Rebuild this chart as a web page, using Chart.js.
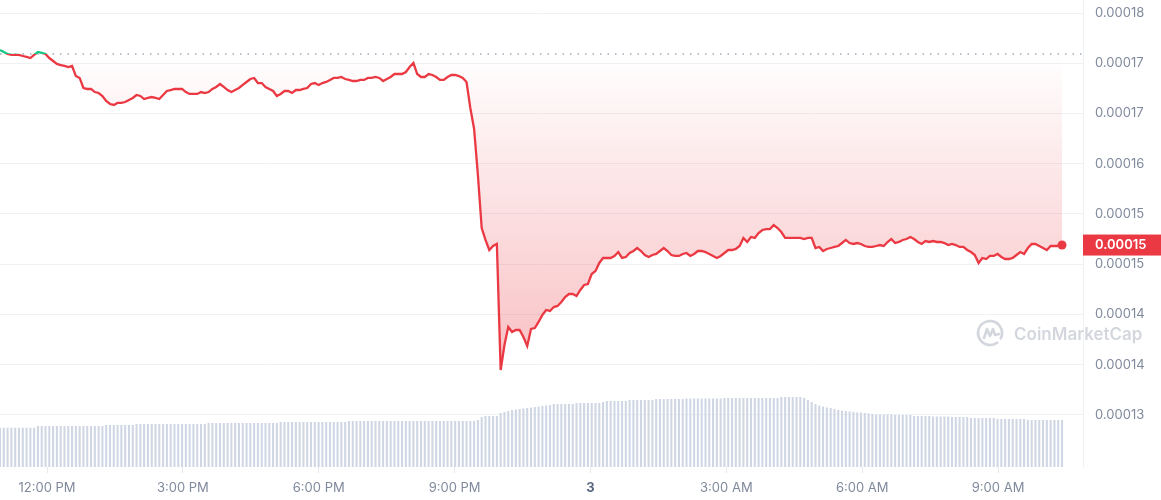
<!DOCTYPE html>
<html>
<head>
<meta charset="utf-8">
<title>Price chart</title>
<script src="https://cdn.jsdelivr.net/npm/chart.js@4.4.0/dist/chart.umd.min.js"></script>
<style>
    html, body { margin: 0; padding: 0; background: #fff; }
    #wrap { width: 1161px; height: 500px; position: relative; }
</style>
</head>
<body>
<div id="wrap"><canvas id="chart-price"></canvas></div>
<script>
// ~5-minute samples, first one just before 11:00 AM (minutes counted from midnight of the first day)
const startMinute = 657.7;
const stepMinutes = 5.025;

const priceValues = [
    0.00017540, 0.00017515, 0.00017490, 0.00017478, 0.00017478, 0.00017478, 0.00017465, 0.00017453, 0.00017440, 0.00017478,
    0.00017515, 0.00017503, 0.00017490, 0.00017440, 0.00017403, 0.00017366, 0.00017353, 0.00017341, 0.00017328, 0.00017341,
    0.00017216, 0.00017192, 0.00017067, 0.00017055, 0.00017055, 0.00017017, 0.00017005, 0.00016968, 0.00016906, 0.00016868,
    0.00016856, 0.00016881, 0.00016881, 0.00016893, 0.00016918, 0.00016943, 0.00016980, 0.00016968, 0.00016930, 0.00016943,
    0.00016955, 0.00016943, 0.00016930, 0.00016980, 0.00017030, 0.00017042, 0.00017055, 0.00017055, 0.00017055, 0.00017017,
    0.00016993, 0.00016993, 0.00016993, 0.00017017, 0.00017005, 0.00017017, 0.00017055, 0.00017080, 0.00017117, 0.00017080,
    0.00017042, 0.00017017, 0.00017042, 0.00017067, 0.00017105, 0.00017142, 0.00017179, 0.00017192, 0.00017129, 0.00017129,
    0.00017080, 0.00017055, 0.00017030, 0.00016968, 0.00016993, 0.00017030, 0.00017030, 0.00017005, 0.00017042, 0.00017042,
    0.00017055, 0.00017067, 0.00017117, 0.00017129, 0.00017105, 0.00017129, 0.00017142, 0.00017167, 0.00017192, 0.00017192,
    0.00017204, 0.00017179, 0.00017167, 0.00017154, 0.00017154, 0.00017167, 0.00017167, 0.00017192, 0.00017192, 0.00017204,
    0.00017192, 0.00017154, 0.00017179, 0.00017204, 0.00017241, 0.00017241, 0.00017241, 0.00017266, 0.00017328, 0.00017378,
    0.00017241, 0.00017204, 0.00017204, 0.00017241, 0.00017229, 0.00017204, 0.00017167, 0.00017167, 0.00017204, 0.00017229,
    0.00017229, 0.00017216, 0.00017192, 0.00017142, 0.00016818, 0.00016557, 0.00015985, 0.00015326, 0.00015177, 0.00015052,
    0.00015102, 0.00015127, 0.00013560, 0.00013871, 0.00014095, 0.00014032, 0.00014057, 0.00014057, 0.00013970, 0.00013858,
    0.00014070, 0.00014082, 0.00014157, 0.00014244, 0.00014306, 0.00014294, 0.00014343, 0.00014356, 0.00014406, 0.00014468,
    0.00014505, 0.00014505, 0.00014480, 0.00014555, 0.00014617, 0.00014629, 0.00014754, 0.00014791, 0.00014891, 0.00014953,
    0.00014953, 0.00014953, 0.00014978, 0.00015027, 0.00014953, 0.00014965, 0.00015015, 0.00015040, 0.00015077, 0.00015040,
    0.00014990, 0.00014965, 0.00014990, 0.00015003, 0.00015040, 0.00015077, 0.00015040, 0.00014990, 0.00014978, 0.00014978,
    0.00015003, 0.00015015, 0.00014978, 0.00015003, 0.00015040, 0.00015040, 0.00015027, 0.00015003, 0.00014978, 0.00014953,
    0.00014978, 0.00015015, 0.00015052, 0.00015052, 0.00015065, 0.00015102, 0.00015202, 0.00015152, 0.00015214, 0.00015202,
    0.00015264, 0.00015301, 0.00015313, 0.00015313, 0.00015363, 0.00015326, 0.00015276, 0.00015202, 0.00015202, 0.00015202,
    0.00015202, 0.00015202, 0.00015189, 0.00015202, 0.00015202, 0.00015077, 0.00015090, 0.00015040, 0.00015065, 0.00015077,
    0.00015090, 0.00015102, 0.00015139, 0.00015177, 0.00015139, 0.00015127, 0.00015139, 0.00015127, 0.00015102, 0.00015090,
    0.00015090, 0.00015102, 0.00015114, 0.00015102, 0.00015152, 0.00015189, 0.00015139, 0.00015152, 0.00015177, 0.00015189,
    0.00015214, 0.00015189, 0.00015152, 0.00015127, 0.00015164, 0.00015152, 0.00015164, 0.00015152, 0.00015152, 0.00015139,
    0.00015114, 0.00015127, 0.00015114, 0.00015090, 0.00015090, 0.00015052, 0.00015027, 0.00014990, 0.00014891, 0.00014953,
    0.00014940, 0.00014978, 0.00014978, 0.00015003, 0.00014965, 0.00014940, 0.00014940, 0.00014953, 0.00014990, 0.00015027,
    0.00015003, 0.00015077, 0.00015127, 0.00015127, 0.00015102, 0.00015077, 0.00015052, 0.00015102, 0.00015102, 0.00015102, 0.00015114
];

// 24h volume, thousands
const volumeValues = [
    393, 393, 393, 393, 393, 393, 393, 393, 393, 393,
    410, 410, 410, 410, 410, 410, 410, 410, 410, 410,
    410, 410, 410, 410, 410, 410, 410, 410, 420, 420,
    420, 420, 420, 420, 420, 420, 430, 430, 430, 430,
    430, 430, 430, 430, 430, 430, 430, 430, 430, 430,
    430, 430, 430, 430, 430, 440, 440, 440, 440, 440,
    440, 440, 440, 440, 440, 440, 440, 440, 440, 440,
    440, 440, 440, 440, 450, 450, 450, 450, 450, 450,
    450, 450, 450, 450, 450, 450, 450, 450, 450, 450,
    450, 450, 460, 460, 460, 460, 460, 460, 460, 460,
    460, 460, 460, 460, 460, 460, 460, 460, 460, 460,
    460, 460, 460, 460, 460, 460, 460, 460, 460, 460,
    460, 460, 460, 460, 460, 460, 470, 500, 510, 510,
    510, 510, 540, 550, 560, 570, 575, 580, 585, 590,
    595, 600, 605, 610, 615, 620, 630, 630, 630, 630,
    630, 630, 640, 640, 640, 640, 640, 640, 640, 650,
    660, 660, 660, 660, 660, 660, 670, 670, 670, 670,
    670, 670, 670, 680, 680, 680, 680, 680, 680, 680,
    680, 685, 685, 685, 685, 685, 685, 685, 685, 685,
    685, 690, 690, 690, 690, 690, 690, 690, 690, 690,
    690, 690, 690, 690, 690, 690, 700, 700, 700, 700,
    700, 700, 690, 670, 650, 630, 615, 605, 595, 590,
    580, 570, 565, 560, 555, 550, 545, 545, 540, 535,
    530, 525, 525, 525, 525, 525, 520, 520, 520, 520,
    520, 510, 510, 510, 510, 510, 505, 505, 505, 505,
    505, 500, 500, 500, 500, 500, 490, 490, 490, 490,
    490, 490, 490, 480, 480, 480, 480, 480, 480, 480,
    480, 470, 470, 470, 470, 470, 470, 470, 470, 470, 470
];

const openPrice = 0.0001749;

const xTickValues = [720, 900, 1080, 1260, 1440, 1620, 1800, 1980];
const xTickLabels = ['12:00 PM', '3:00 PM', '6:00 PM', '9:00 PM', '3', '3:00 AM', '6:00 AM', '9:00 AM'];
const yTickValues = [0.00013, 0.00013625, 0.0001425, 0.00014875, 0.000155, 0.00016125, 0.0001675, 0.00017375, 0.00018];
const yTickLabels = ['0.00013', '0.00014', '0.00014', '0.00015', '0.00015', '0.00016', '0.00017', '0.00017', '0.00018'];

const RED = '#ea3943';
const GREEN = '#16c784';
const LABEL_GRAY = '#808a9d';
const GRID = '#eff2f5';

function baseStop(chart) {
    const area = chart.chartArea;
    const yBase = chart.scales.y.getPixelForValue(openPrice);
    return Math.min(Math.max((yBase - area.top) / (area.bottom - area.top), 0), 1);
}

function lineColor(context) {
    const chart = context.chart;
    if (!chart.chartArea) return RED;
    const area = chart.chartArea;
    const stop = baseStop(chart);
    const g = chart.ctx.createLinearGradient(0, area.top, 0, area.bottom);
    g.addColorStop(0, GREEN);
    g.addColorStop(stop, GREEN);
    g.addColorStop(stop, RED);
    g.addColorStop(1, RED);
    return g;
}

function fillColor(context) {
    const chart = context.chart;
    if (!chart.chartArea) return 'rgba(234, 57, 67, 0.1)';
    const area = chart.chartArea;
    const stop = baseStop(chart);
    const g = chart.ctx.createLinearGradient(0, area.top, 0, area.bottom);
    g.addColorStop(0, 'rgba(22, 199, 132, 0.12)');
    g.addColorStop(stop, 'rgba(22, 199, 132, 0.02)');
    g.addColorStop(stop, 'rgba(234, 57, 67, 0.0)');
    g.addColorStop(1, 'rgba(234, 57, 67, 0.42)');
    return g;
}

// dotted open-price line and the watermark, under the data
const backdropPlugin = {
    id: 'backdrop',
    beforeDatasetsDraw(chart) {
        const { ctx, chartArea } = chart;
        const y = chart.scales.y.getPixelForValue(openPrice);
        ctx.save();
        ctx.strokeStyle = '#a1a9ba';
        ctx.lineWidth = 1.3;
        ctx.setLineDash([1.5, 6]);
        ctx.beginPath();
        ctx.moveTo(chartArea.left, y);
        ctx.lineTo(chartArea.right, y);
        ctx.stroke();
        ctx.setLineDash([]);

        // CoinMarketCap mark
        const cx = chartArea.right - 93;
        const cy = chartArea.bottom - 134;
        ctx.strokeStyle = 'rgba(128, 138, 157, 0.35)';
        ctx.fillStyle = 'rgba(128, 138, 157, 0.35)';
        ctx.lineWidth = 2.6;
        ctx.lineCap = 'round';
        ctx.lineJoin = 'round';
        ctx.beginPath();
        ctx.arc(cx, cy, 12, 0.3 * Math.PI, 2.15 * Math.PI);
        ctx.stroke();
        ctx.beginPath();
        ctx.moveTo(cx - 6, cy + 5);
        ctx.lineTo(cx - 3, cy - 4);
        ctx.lineTo(cx, cy + 3);
        ctx.lineTo(cx + 3, cy - 4);
        ctx.lineTo(cx + 5, cy + 2);
        ctx.lineTo(cx + 9, cy + 1);
        ctx.stroke();
        ctx.font = '600 17px Inter';
        ctx.textAlign = 'left';
        ctx.textBaseline = 'alphabetic';
        ctx.fillText('CoinMarketCap', cx + 24, cy + 7);
        ctx.restore();
    }
};

// current price tag on the right axis
const priceTagPlugin = {
    id: 'priceTag',
    afterDraw(chart) {
        const { ctx, chartArea } = chart;
        const last = priceValues[priceValues.length - 1];
        const y = chart.scales.y.getPixelForValue(last);
        ctx.save();
        ctx.fillStyle = RED;
        ctx.fillRect(chartArea.right, y - 10.5, chart.width - chartArea.right, 21);
        ctx.fillStyle = '#ffffff';
        ctx.font = '600 13px Inter';
        ctx.textAlign = 'left';
        ctx.textBaseline = 'middle';
        ctx.fillText(last.toFixed(5), chartArea.right + 12, y + 0.5);
        ctx.restore();
    }
};

function renderPriceChart(ctxId) {
    const ctx = document.getElementById(ctxId).getContext('2d');
    const lastIndex = priceValues.length - 1;
    new Chart(ctx, {
        type: 'line',
        data: {
            datasets: [{
                type: 'line',
                label: 'Price',
                data: priceValues.map((p, i) => ({ x: startMinute + i * stepMinutes, y: p })),
                yAxisID: 'y',
                borderColor: lineColor,
                backgroundColor: fillColor,
                borderWidth: 2.3,
                tension: 0,
                fill: { target: { value: openPrice } },
                pointRadius: c => (c.dataIndex === lastIndex ? 4.5 : 0),
                pointBackgroundColor: RED,
                pointBorderWidth: 0,
                order: 1
            }, {
                type: 'bar',
                label: 'Volume',
                data: volumeValues.map((v, i) => ({ x: startMinute + i * stepMinutes, y: v })),
                yAxisID: 'yVol',
                backgroundColor: '#cfd6e4',
                barPercentage: 0.55,
                categoryPercentage: 1,
                order: 2
            }]
        },
        options: {
            responsive: true,
            maintainAspectRatio: false,
            animation: false,
            events: [],
            layout: { padding: 0, autoPadding: false },
            plugins: { legend: { display: false }, tooltip: { enabled: false } },
            scales: {
                x: {
                    type: 'linear',
                    min: 657.7,
                    max: 2092.5,
                    offset: false,
                    grid: { display: true, drawOnChartArea: false, drawTicks: true, tickLength: 6, tickColor: '#e6e9ef', offset: false },
                    border: { display: false },
                    afterBuildTicks: s => { s.ticks = xTickValues.map(v => ({ value: v })); },
                    afterFit: s => { s.height = 33; s.paddingLeft = 0; s.paddingRight = 0; },
                    ticks: {
                        autoSkip: false,
                        maxRotation: 0,
                        padding: 7,
                        callback: (v, i) => xTickLabels[i],
                        color: c => (c.tick && c.tick.value === 1440 ? '#58667e' : LABEL_GRAY),
                        font: c => (c.tick && c.tick.value === 1440
                            ? { family: 'Inter', size: 13, weight: 'bold' }
                            : { family: 'Inter', size: 13 })
                    }
                },
                y: {
                    position: 'right',
                    min: 0.000123532,
                    max: 0.000181617,
                    grid: { color: GRID, drawTicks: false },
                    border: { display: true, color: GRID },
                    afterBuildTicks: s => { s.ticks = yTickValues.map(v => ({ value: v })); },
                    afterFit: s => { s.width = 78; s.paddingTop = 0; s.paddingBottom = 0; },
                    ticks: {
                        padding: 12,
                        color: LABEL_GRAY,
                        font: { family: 'Inter', size: 13 },
                        callback: (v, i) => yTickLabels[i]
                    }
                },
                yVol: { display: false, min: 0, max: 4670 }
            }
        },
        plugins: [backdropPlugin, priceTagPlugin]
    });
}

document.addEventListener('DOMContentLoaded', () => renderPriceChart('chart-price'));
</script>
</body>
</html>
